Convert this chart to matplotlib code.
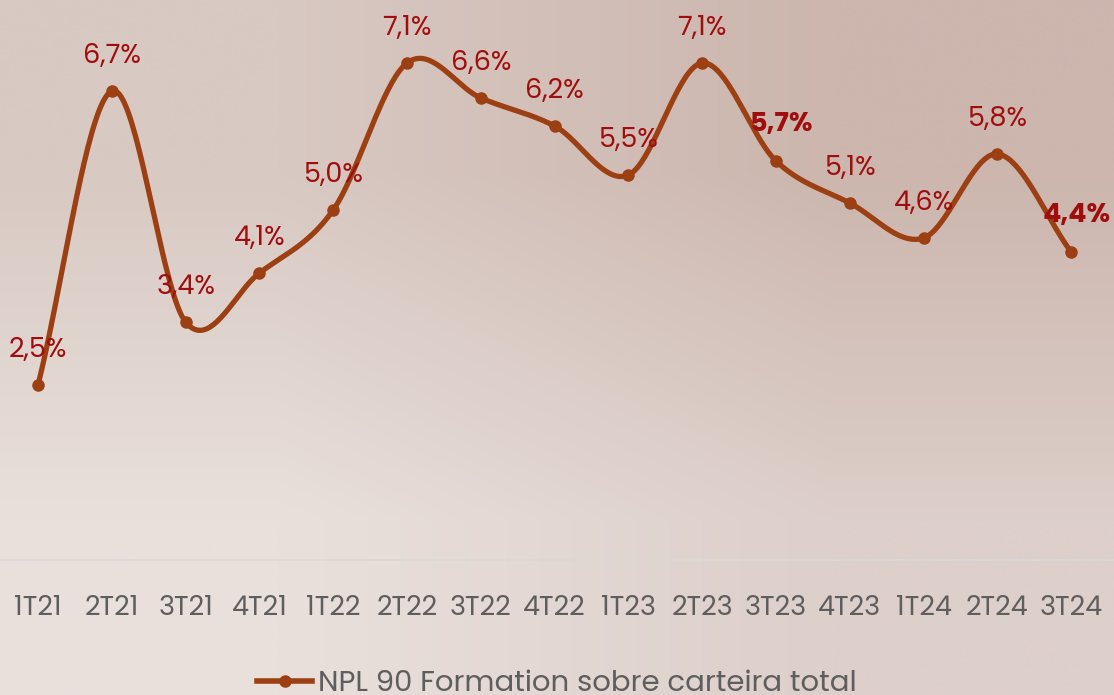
import numpy as np
import matplotlib
matplotlib.use("Agg")
import matplotlib.pyplot as plt
from matplotlib.lines import Line2D

categories = ["1T21", "2T21", "3T21", "4T21", "1T22", "2T22", "3T22", "4T22",
              "1T23", "2T23", "3T23", "4T23", "1T24", "2T24", "3T24"]
values = [2.5, 6.7, 3.4, 4.1, 5.0, 7.1, 6.6, 6.2, 5.5, 7.1, 5.7, 5.1, 4.6, 5.8, 4.4]
labels = ["2,5%", "6,7%", "3,4%", "4,1%", "5,0%", "7,1%", "6,6%", "6,2%",
          "5,5%", "7,1%", "5,7%", "5,1%", "4,6%", "5,8%", "4,4%"]
bold_labels = {"3T23", "3T24"}
series_name = "NPL 90 Formation sobre carteira total"

LINE = "#9c3f12"
LABEL = "#a00d0d"
TICK = "#5e5e5e"
FONT = ["Poppins", "Open Sans", "DejaVu Sans"]
plt.rcParams["font.family"] = FONT

fig = plt.figure(figsize=(11.14, 6.95), dpi=100)

# background gradient
bg = fig.add_axes([0, 0, 1, 1], zorder=-10)
corners = np.array([[[216, 201, 194], [204, 182, 174]],
                    [[233, 224, 220], [221, 207, 202]]]) / 255.0
bg.imshow(corners, extent=[0, 1, 0, 1], aspect="auto", interpolation="bilinear")
bg.set_axis_off()

ax = fig.add_axes([0, 1 - 560 / 695, 1, 560 / 695])
ax.patch.set_alpha(0)
x = np.arange(len(values))
y = np.array(values)

# Catmull-Rom smoothing (Excel-like smoothed line)
def catmull(xp, yp, n=40):
    P = np.column_stack([xp, yp]).astype(float)
    P = np.vstack([P[0] * 2 - P[1], P, P[-1] * 2 - P[-2]])
    out = []
    for i in range(1, len(P) - 2):
        p0, p1, p2, p3 = P[i - 1], P[i], P[i + 1], P[i + 2]
        t = np.linspace(0, 1, n, endpoint=False)[:, None]
        c = 0.5 * ((2 * p1) + (-p0 + p2) * t + (2 * p0 - 5 * p1 + 4 * p2 - p3) * t ** 2
                   + (-p0 + 3 * p1 - 3 * p2 + p3) * t ** 3)
        out.append(c)
    out.append(P[-2][None, :])
    out = np.vstack(out)
    return out[:, 0], out[:, 1]

sx, sy = catmull(x, y)
ax.plot(sx, sy, color=LINE, lw=3.8, solid_capstyle="round", zorder=3)
ax.plot(x, y, "o", color=LINE, ms=8, zorder=4)

for xi, yi, lab, cat in zip(x, y, labels, categories):
    bold = cat in bold_labels
    ax.annotate(lab, (xi, yi), xytext=(4 if bold else 0, 26 if bold else 25),
                textcoords="offset points",
                ha="center", va="center", fontsize=19.5, color=LABEL,
                fontweight="bold" if bold else "normal", zorder=5)

ax.set_xlim(-0.515, 14.58)
ax.set_ylim(0, 8)
ax.set_xticks(x)
ax.set_xticklabels(categories, fontsize=19.5, color=TICK)
ax.tick_params(axis="x", length=0, pad=25)
ax.set_yticks([])
for s in ["top", "left", "right"]:
    ax.spines[s].set_visible(False)
ax.spines["bottom"].set_color("#d9d9d9")
ax.spines["bottom"].set_linewidth(1.2)

handle = Line2D([], [], color=LINE, lw=4, marker="o", ms=8)
fig.legend([handle], [series_name], loc="center", bbox_to_anchor=(0.5, 1 - 684 / 695),
           frameon=False, fontsize=21, labelcolor=TICK, handlelength=1.9,
           handletextpad=0.2)

fig.savefig("out.png", dpi=100)
